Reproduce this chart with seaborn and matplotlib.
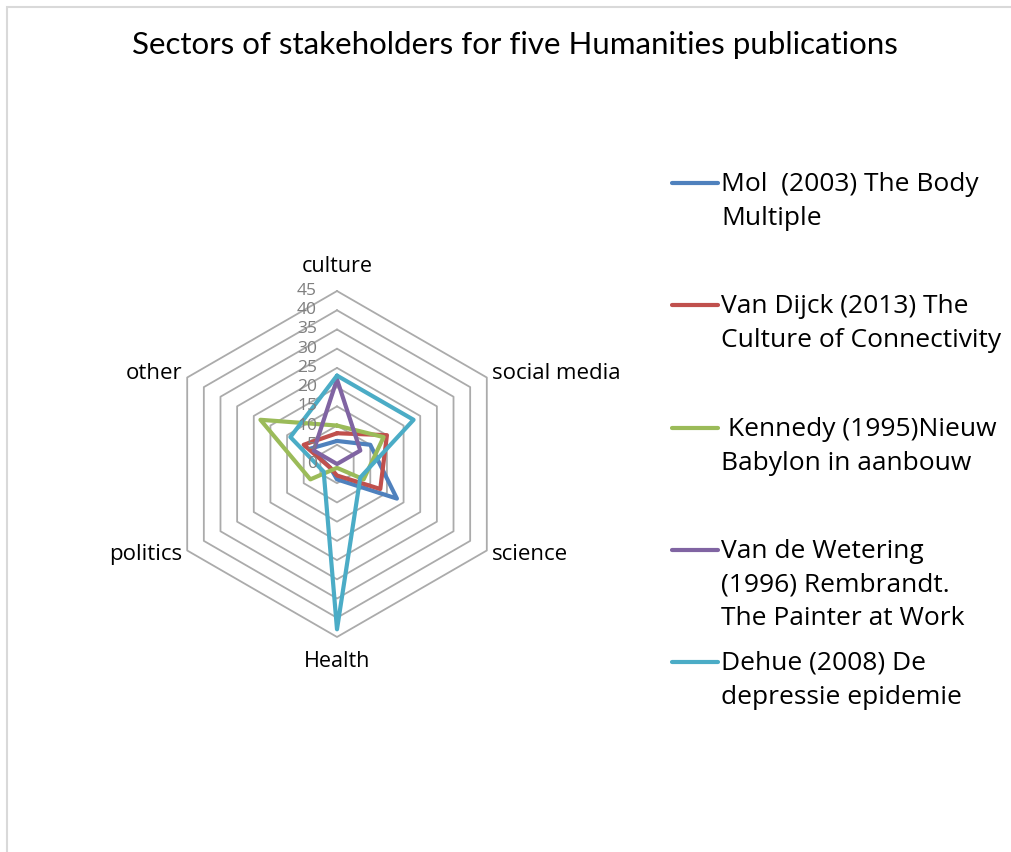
import numpy as np
import pandas as pd
import matplotlib
matplotlib.use("Agg")
import matplotlib.pyplot as plt
import seaborn as sns
from matplotlib.patches import Rectangle
from matplotlib.lines import Line2D

# Daten
sectors = ["culture", "social media", "science", "Health", "politics", "other"]
series_names = [
    "Mol  (2003) The Body\nMultiple",
    "Van Dijck (2013) The\nCulture of Connectivity",
    " Kennedy (1995)Nieuw\nBabylon in aanbouw",
    "Van de Wetering\n(1996) Rembrandt.\nThe Painter at Work",
    "Dehue (2008) De\ndepressie epidemie",
]
mol = [6, 10, 18, 4, 2, 8]
van_dijck = [8, 15, 13, 3, 2, 10]
kennedy = [10, 14, 8, 1, 8, 23]
van_de_wetering = [22, 7, 0, 0, 0, 7]
dehue = [23, 23, 7, 43, 4, 14]
ticks = [0, 5, 10, 15, 20, 25, 30, 35, 40, 45]

colors = ["#4F81BD", "#C0504D", "#9BBB59", "#8064A2", "#4BACC6"]
all_values = [mol, van_dijck, kennedy, van_de_wetering, dehue]

sns.set_style("white")
plt.rcParams["font.family"] = ["Open Sans", "DejaVu Sans"]
plt.rcParams["text.color"] = "black"

W, H = 1012, 852
fig = plt.figure(figsize=(W / 100, H / 100), dpi=100)

# Achse so platzieren, dass 1 Einheit = 3.844 px, Mittelpunkt bei (337, 464)
scale = 3.844
cx, cy = 337, 464
half = 50 * scale
ax = fig.add_axes([(cx - half) / W, (H - cy - half) / H, 2 * half / W, 2 * half / H])

angles = np.deg2rad([90, 30, -30, -90, -150, 150])

# Gitter (Sechsecke)
for t in ticks[1:]:
    gx = np.append(t * np.cos(angles), t * np.cos(angles[0]))
    gy = np.append(t * np.sin(angles), t * np.sin(angles[0]))
    ax.plot(gx, gy, color="#ABABAB", lw=1.3, zorder=1)

# Datenreihen
rows = []
for name, vals in zip(series_names, all_values):
    v = np.append(vals, vals[0])
    a = np.append(angles, angles[0])
    for i, (r, th) in enumerate(zip(v, a)):
        rows.append({"series": name, "order": i, "x": r * np.cos(th), "y": r * np.sin(th)})
df = pd.DataFrame(rows)
sns.lineplot(data=df, x="x", y="y", hue="series", units="series", estimator=None,
             sort=False, palette=colors, lw=3, ax=ax, legend=False, zorder=3)
ax.set_xlim(-50, 50)
ax.set_ylim(-50, 50)
ax.axis("off")

# Achsenbeschriftungen
for name, th in zip(sectors, angles):
    c = np.cos(th)
    if abs(c) < 0.01:
        ax.text(0, 51.5 * np.sin(th), name, ha="center", va="center", fontsize=15.5)
    else:
        ax.text(46.5 * c, 47 * np.sin(th), name, ha="left" if c > 0 else "right",
                va="center", fontsize=16)

# Skalenwerte
for t in ticks:
    ax.text(-5.2, t, str(t), ha="right", va="center", fontsize=12.5, color="#7F7F7F")

# Titel
fig.text(515 / W, 1 - 45 / H, "Sectors of stakeholders for five Humanities publications",
         ha="center", va="center", fontsize=22.5, family=["Lato", "DejaVu Sans"])

# Legende
legend_y = [183, 305, 428, 550, 662]
for name, col, y in zip(series_names, colors, legend_y):
    fig.add_artist(Line2D([672 / W, 718 / W], [1 - y / H, 1 - y / H], color=col, lw=3))
    fig.text(721 / W, 1 - (y - 11) / H, name, ha="left", va="top", fontsize=19,
             linespacing=1.45)

# Rahmen
fig.add_artist(Rectangle((7 / W, -0.1), 1.2, 1 - 7 / H + 0.1, transform=fig.transFigure,
                         fill=False, edgecolor="#D9D9D9", lw=1.5))

fig.savefig("out.png", dpi=100)
